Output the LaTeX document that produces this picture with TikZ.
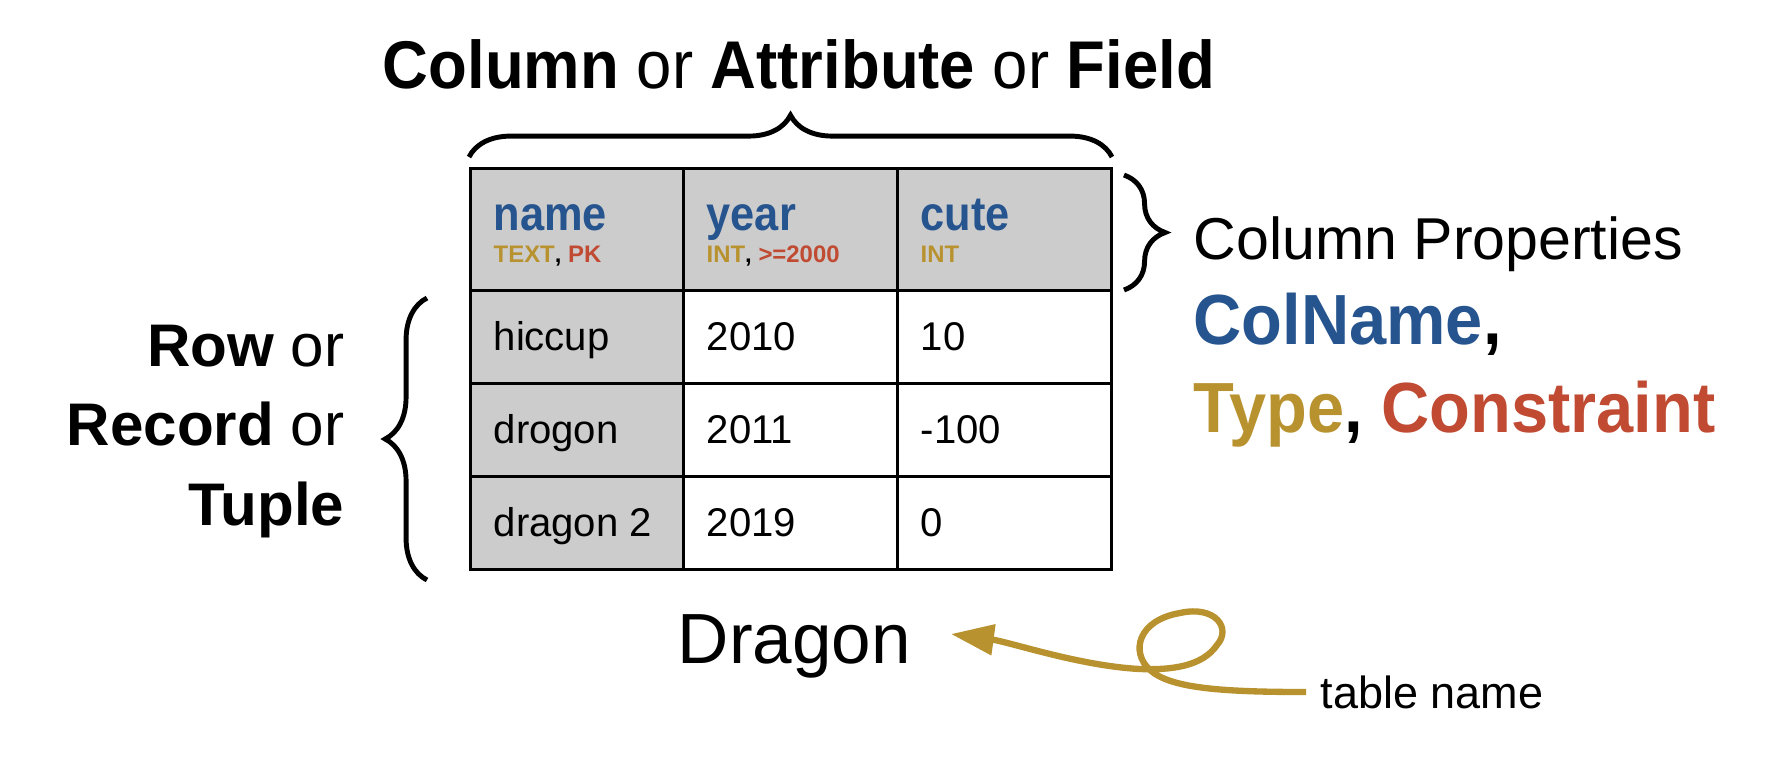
\documentclass[tikz,border=0pt]{standalone}
\usepackage{fontspec}
\setmainfont{Liberation Sans}
\newfontfamily\narrowfont[FakeStretch=0.9]{Liberation Sans}
\newfontfamily\tightfont[FakeStretch=0.94]{Liberation Sans}
\usetikzlibrary{calc, positioning, arrows.meta, decorations.pathreplacing}
\usepackage{xcolor}
\definecolor{nameblue}{RGB}{38,84,143}
\definecolor{typegold}{RGB}{185,146,48}
\definecolor{consred}{RGB}{192,74,50}
\definecolor{cellgray}{RGB}{204,204,204}

\begin{document}
\begin{tikzpicture}[
        x=0.01cm, y=-0.01cm,
        title/.style={
            font=\tightfont\fontsize{19.2}{23}\selectfont,
            anchor=base, inner sep=0pt
        },
        side/.style={
            font=\fontsize{17.1}{20}\selectfont,
            anchor=base east, inner sep=0pt
        },
        colhead/.style={
            font=\narrowfont\bfseries\fontsize{13.7}{16}\selectfont,
            text=nameblue, anchor=base west, inner sep=0pt
        },
        colprop/.style={
            font=\bfseries\fontsize{6.8}{8}\selectfont,
            anchor=base west, inner sep=0pt
        },
        cell/.style={
            font=\fontsize{11.4}{14}\selectfont,
            anchor=base west, inner sep=0pt
        },
        grid/.style={draw=black, line width=0.85pt},
        curly/.style={
            decorate, decoration={brace, amplitude=#1},
            line width=1.4pt
        },
        curl/.style={
            draw=typegold, line width=1.8pt,
            -{Triangle[length=12.2pt, width=8.5pt]}
        }
    ]

    \useasboundingbox (0,0) rectangle (1776,756);

    % Table corners
    \coordinate (tblnw) at (470,168);
    \coordinate (tblse) at (1111,569);

    % Shaded cells
    \fill[cellgray] (tblnw) rectangle (1111,290);
    \fill[cellgray] (470,290) rectangle (683,569);

    % Grid
    \foreach \y in {290,383,476}
        \draw[grid] (470,\y) -- (1111,\y);
    \foreach \x in {683,897}
        \draw[grid] (\x,168) -- (\x,569);
    \draw[grid] (tblnw) rectangle (tblse);

    % Header
    \node[colhead] (hname) at (493,230) {name};
    \node[colhead] (hyear) at (706,230) {year};
    \node[colhead] (hcute) at (920,230) {cute};
    \node[colprop] (pname) at (493,262) {\textcolor{typegold}{TEXT}, \textcolor{consred}{PK}};
    \node[colprop] (pyear) at (706,262) {\textcolor{typegold}{INT}, \textcolor{consred}{>=2000}};
    \node[colprop] (pcute) at (920,262) {\textcolor{typegold}{INT}};

    % Rows
    \foreach \nm/\yr/\ct [count=\i, evaluate=\i as \yy using 257+93*\i] in
        {hiccup/2010/10, drogon/2011/-100, dragon 2/2019/0} {
        \node[cell] (nm\i) at (493,\yy) {\nm};
        \node[cell] (yr\i) at (706,\yy) {\yr};
        \node[cell] (ct\i) at (920,\yy) {\ct};
    }

    % Column brace and title
    \coordinate (topl) at (469,157);
    \coordinate (topr) at (1112,157);
    \draw[curly=11.9pt] (topl) -- (topr);
    \node[title] (coltitle) at (799,88)
        {\bfseries Column \mdseries or \bfseries Attribute \mdseries or \bfseries Field};

    % Row brace and labels
    \coordinate (rowb) at (427,580);
    \coordinate (rowt) at (427,298);
    \draw[curly=11.9pt] (rowb) -- (rowt);
    \node[side] (rowlbl) at (345,366) {\textbf{Row} or};
    \node[side] (reclbl) at (345,445) {\textbf{Record} or};
    \node[side] (tuplbl) at (345,525) {\textbf{Tuple}};

    % Header brace and properties
    \coordinate (proptop) at (1124,175);
    \coordinate (propbot) at (1124,290);
    \draw[curly=11.7pt] (proptop) -- (propbot);
    \node[anchor=base west, inner sep=0pt, font=\fontsize{16.8}{20}\selectfont]
        (colprops) at (1193,259) {Column Properties};
    \node[anchor=base west, inner sep=0pt, font=\tightfont\bfseries\fontsize{20.2}{24}\selectfont]
        (colnm) at (1193,344) {\textcolor{nameblue}{ColName},};
    \node[anchor=base west, inner sep=0pt, font=\tightfont\bfseries\fontsize{20.2}{24}\selectfont]
        (typecons) at (1193,432) {\textcolor{typegold}{Type}, \textcolor{consred}{Constraint}};

    % Table name
    \node[anchor=base west, inner sep=0pt, font=\fontsize{20.2}{24}\selectfont]
        (dragon) at (677,663) {Dragon};
    \node[anchor=base west, inner sep=0pt, font=\fontsize{12.8}{15}\selectfont]
        (tname) at (1320,708) {table name};

    % Curly arrow
    \coordinate (tail) at (1306,692);
    \coordinate (cross) at (1150,670);
    \coordinate (looptop) at (1180,613);
    \coordinate (loopright) at (1217,645);
    \coordinate (tip) at (951,634);
    \draw[curl] (tail) .. controls (1220,692) and (1170,688) .. (cross)
        .. controls (1130,652) and (1138,620) .. (looptop)
        .. controls (1215,605) and (1232,628) .. (loopright)
        .. controls (1202,667) and (1170,670) .. (1140,669)
        .. controls (1080,666) and (1010,642) .. (tip);

\end{tikzpicture}
\end{document}
